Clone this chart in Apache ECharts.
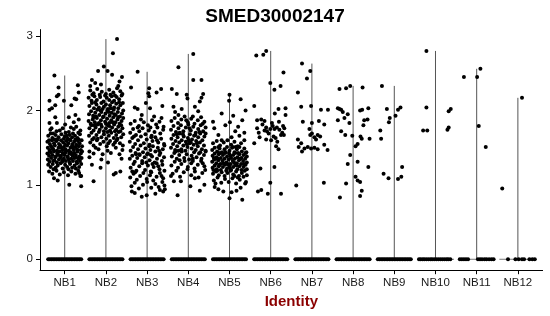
<!DOCTYPE html>
<html><head><meta charset="utf-8">
<script src="https://cdn.jsdelivr.net/npm/echarts@6/dist/echarts.min.js"></script>
<style>html,body{margin:0;padding:0;background:#fff}#c{width:550px;height:316px}</style>
</head><body><div id="c"></div>
<script>
const categories = ['NB1','NB2','NB3','NB4','NB5','NB6','NB7','NB8','NB9','NB10','NB11','NB12'];
const yTicks = [0,1,2,3];
// [jitter offset, expression value]
const nb1 = [[-.25,2.47],[-.15,2.31],[.32,2.34],[.34,2.24],[-.19,2.19],[-.15,2.21],[-.37,2.13],[.24,2.16],[.28,2.15],[-.02,2.13],[-.23,2.07],[-.37,2.01],[-.31,2.03],[.16,2.07],[-.23,1.91],[.10,1.91],[.26,1.94],[-.37,1.83],[-.19,1.83],[.01,1.81],[.22,1.84],[.34,1.88],[-.32,1.76],[-.26,1.09],[-.17,1.06],[.11,1.00],[.40,.98],[.40,1.12],[.35,1.16],
[-.35,1.74],[-.2,1.72],[-.05,1.76],[.1,1.71],[.22,1.75],[.33,1.7],[-.28,1.69],[.02,1.7],[.15,1.77],[-.12,1.73],[.38,1.73],[.28,1.78],
[-.4,1.66],[-.3,1.63],[-.22,1.67],[-.15,1.64],[-.08,1.68],[0,1.65],[.07,1.62],[.12,1.67],[.18,1.64],[.25,1.66],[.31,1.63],[.37,1.68],[-.34,1.69],[-.02,1.62],[.2,1.69],[-.18,1.61],[.34,1.61],[.05,1.66],
[-.42,1.58],[-.36,1.55],[-.31,1.6],[-.26,1.56],[-.2,1.59],[-.14,1.55],[-.09,1.6],[-.04,1.57],[.01,1.54],[.04,1.59],[.09,1.56],[.14,1.6],[.19,1.55],[.23,1.58],[.28,1.54],[.32,1.59],[.36,1.56],[.41,1.6],[-.24,1.61],[.11,1.61],[-.38,1.6],[.26,1.61],
[-.41,1.5],[-.37,1.47],[-.33,1.52],[-.28,1.48],[-.24,1.53],[-.19,1.46],[-.15,1.5],[-.11,1.53],[-.06,1.47],[-.02,1.51],[.02,1.48],[.06,1.53],[.1,1.46],[.14,1.5],[.18,1.53],[.22,1.47],[.26,1.51],[.3,1.48],[.34,1.52],[.39,1.47],[.42,1.52],[-.08,1.5],[.2,1.5],[-.3,1.49],
[-.42,1.42],[-.38,1.39],[-.34,1.44],[-.3,1.4],[-.26,1.45],[-.22,1.38],[-.18,1.42],[-.13,1.45],[-.09,1.39],[-.05,1.43],[-.01,1.4],[.03,1.45],[.07,1.38],[.11,1.42],[.15,1.44],[.19,1.39],[.23,1.43],[.27,1.4],[.31,1.45],[.35,1.38],[.39,1.42],[.42,1.45],[-.16,1.4],[.01,1.43],[.17,1.41],[-.36,1.45],
[-.41,1.34],[-.37,1.31],[-.33,1.36],[-.28,1.32],[-.23,1.37],[-.19,1.3],[-.14,1.34],[-.1,1.37],[-.06,1.31],[-.02,1.35],[.03,1.32],[.07,1.37],[.12,1.3],[.16,1.35],[.2,1.32],[.24,1.36],[.29,1.31],[.33,1.35],[.37,1.32],[.41,1.36],[-.25,1.33],[.1,1.34],[.27,1.37],[-.05,1.33],
[-.4,1.27],[-.34,1.24],[-.29,1.28],[-.22,1.23],[-.17,1.26],[-.1,1.29],[-.05,1.22],[.01,1.27],[.06,1.24],[.13,1.28],[.18,1.23],[.24,1.26],[.3,1.29],[.35,1.24],[.4,1.28],[-.27,1.21],[.09,1.21],[.27,1.22],
[-.38,1.18],[-.3,1.15],[-.2,1.19],[-.12,1.14],[-.02,1.17],[.08,1.13],[.16,1.18],[.26,1.15],[.33,1.19],[.38,1.12]];
const nb2 = [[.27,2.96],[.17,2.77],[-.05,2.59],[-.19,2.53],[.04,2.53],[.39,2.45],[.33,2.39],[-.34,2.41],[-.26,2.37],[.15,2.48],[.3,2.33],[-.12,2.35],[-.38,2.33],
[-.34,1.27],[-.11,1.34],[.24,1.16],[.19,1.14],[-.3,1.05],[.35,1.18],[-.13,1.23],[.05,1.3],[-.4,1.37],[.38,1.35],
[-.38,2.27],[-.3,2.23],[-.21,2.29],[-.1,2.25],[0,2.22],[.08,2.28],[.18,2.24],[.27,2.3],[.35,2.26],[-.15,2.21],[.22,2.2],[.4,2.22],
[-.42,2.17],[-.35,2.13],[-.28,2.19],[-.22,2.14],[-.14,2.18],[-.06,2.12],[.02,2.17],[.08,2.14],[.14,2.19],[.2,2.13],[.26,2.18],[.32,2.15],[.38,2.2],[-.02,2.2],[.11,2.21],[-.33,2.21],
[-.4,2.06],[-.34,2.1],[-.29,2.03],[-.23,2.08],[-.17,2.04],[-.11,2.1],[-.05,2.05],[0,2.08],[.05,2.02],[.1,2.07],[.15,2.11],[.2,2.04],[.25,2.09],[.3,2.03],[.35,2.07],[.41,2.1],[-.26,2.11],[.12,2.03],[.32,2.11],[-.08,2.02],
[-.41,1.95],[-.36,1.99],[-.31,1.93],[-.26,1.97],[-.21,2.01],[-.16,1.94],[-.11,1.98],[-.06,1.92],[-.01,1.96],[.04,2.0],[.09,1.93],[.14,1.97],[.19,2.01],[.24,1.94],[.29,1.98],[.34,1.92],[.39,1.96],[.42,2.0],[-.24,1.92],[.07,1.98],[.21,1.95],[-.13,2.0],
[-.42,1.86],[-.37,1.82],[-.32,1.88],[-.27,1.84],[-.22,1.9],[-.17,1.83],[-.12,1.87],[-.07,1.91],[-.02,1.85],[.03,1.89],[.08,1.83],[.13,1.87],[.18,1.91],[.23,1.84],[.28,1.88],[.33,1.82],[.38,1.86],[.42,1.9],[-.3,1.91],[0,1.82],[.16,1.84],[.3,1.91],
[-.4,1.76],[-.35,1.8],[-.3,1.73],[-.25,1.77],[-.2,1.81],[-.15,1.74],[-.1,1.78],[-.05,1.72],[0,1.76],[.05,1.8],[.1,1.73],[.15,1.77],[.2,1.81],[.25,1.74],[.3,1.78],[.35,1.72],[.4,1.76],[-.28,1.8],[.08,1.79],[.22,1.72],[-.12,1.81],[.37,1.8],
[-.41,1.66],[-.35,1.7],[-.29,1.63],[-.23,1.67],[-.17,1.71],[-.11,1.64],[-.05,1.68],[.01,1.62],[.07,1.66],[.13,1.7],[.19,1.63],[.25,1.67],[.31,1.71],[.37,1.64],[.42,1.68],[-.2,1.62],[.04,1.71],[.28,1.62],
[-.38,1.57],[-.3,1.53],[-.22,1.6],[-.14,1.55],[-.06,1.58],[.02,1.52],[.1,1.59],[.18,1.54],[.26,1.6],[.34,1.56],[.41,1.53],[-.33,1.61],[.06,1.56],[.22,1.57],
[-.4,1.45],[-.3,1.42],[-.18,1.48],[-.08,1.41],[.04,1.46],[.12,1.43],[.24,1.5],[.33,1.41],[.4,1.47],[-.25,1.5]];
const nb3 = [[-.23,2.52],[-.39,2.31],[.05,2.3],[.23,2.24],[.34,2.29],[.03,2.23],[.05,2.19],[-.03,2.1],[-.3,2.04],[-.23,2.02],[.07,2.03],[.37,2.06],[-.13,1.94],[.17,1.92],[.35,1.9],
[-.4,1.82],[-.3,1.86],[-.2,1.79],[-.08,1.84],[.02,1.8],[.12,1.87],[.22,1.81],[.3,1.85],[.4,1.78],[-.15,1.88],
[-.41,1.7],[-.34,1.75],[-.27,1.67],[-.19,1.72],[-.11,1.76],[-.04,1.68],[.04,1.73],[.11,1.66],[.18,1.71],[.25,1.77],[.32,1.69],[.39,1.74],[-.23,1.77],[.08,1.77],
[-.42,1.58],[-.36,1.63],[-.29,1.55],[-.22,1.6],[-.15,1.65],[-.08,1.56],[-.01,1.61],[.06,1.54],[.13,1.59],[.2,1.64],[.27,1.57],[.34,1.62],[.41,1.55],[-.32,1.65],[.1,1.64],[.24,1.6],
[-.4,1.46],[-.34,1.51],[-.28,1.43],[-.22,1.48],[-.16,1.53],[-.1,1.44],[-.04,1.49],[.02,1.42],[.08,1.47],[.14,1.52],[.2,1.45],[.26,1.5],[.32,1.43],[.38,1.48],[.42,1.53],[-.19,1.41],[.05,1.52],[.29,1.46],
[-.42,1.35],[-.36,1.39],[-.3,1.31],[-.24,1.36],[-.18,1.4],[-.12,1.32],[-.06,1.37],[0,1.41],[.06,1.33],[.12,1.38],[.18,1.3],[.24,1.35],[.3,1.4],[.36,1.32],[.41,1.37],[-.27,1.41],[.09,1.4],[-.02,1.3],
[-.4,1.23],[-.33,1.28],[-.26,1.19],[-.19,1.25],[-.12,1.29],[-.05,1.2],[.02,1.26],[.09,1.18],[.16,1.24],[.23,1.29],[.3,1.21],[.37,1.27],[.42,1.19],[-.36,1.18],[.13,1.28],[.27,1.25],
[-.41,1.1],[-.33,1.15],[-.25,1.07],[-.17,1.12],[-.09,1.16],[-.01,1.08],[.07,1.13],[.15,1.06],[.23,1.11],[.31,1.16],[.39,1.09],[-.29,1.17],[.1,1.17],[.35,1.12],
[-.38,.98],[-.3,1.03],[-.2,.95],[-.1,1.0],[0,1.04],[.1,.96],[.2,1.01],[.28,.97],[.37,1.04],[.42,.99],
[-.37,.91],[-.3,.89],[-.13,.84],[-.01,.86],[.31,.93],[.39,.91],[.43,.94],[.2,.88]];
const nb4 = [[.12,2.76],[-.24,2.58],[.12,2.41],[.32,2.41],[-.4,2.29],[-.28,2.22],[-.04,2.21],[-.02,2.16],[.36,2.22],[.32,2.17],[.28,2.12],[-.36,2.05],[-.16,2.02],[-.32,1.98],[-.24,1.94],[.16,2.05],[.24,1.99],
[-.41,1.86],[-.33,1.9],[-.25,1.83],[-.17,1.88],[-.09,1.92],[-.01,1.84],[.07,1.89],[.15,1.82],[.23,1.87],[.31,1.91],[.39,1.85],[-.05,1.87],[.11,1.92],[.35,1.82],
[-.42,1.74],[-.36,1.79],[-.3,1.71],[-.24,1.76],[-.18,1.8],[-.12,1.72],[-.06,1.77],[0,1.81],[.06,1.73],[.12,1.78],[.18,1.7],[.24,1.75],[.3,1.8],[.36,1.72],[.42,1.77],[-.21,1.7],[.03,1.76],[.27,1.71],
[-.41,1.62],[-.36,1.67],[-.31,1.59],[-.26,1.64],[-.21,1.69],[-.16,1.6],[-.11,1.65],[-.06,1.58],[-.01,1.63],[.04,1.68],[.09,1.61],[.14,1.66],[.19,1.59],[.24,1.64],[.29,1.69],[.34,1.6],[.39,1.65],[.42,1.69],[-.28,1.68],[.01,1.6],[.17,1.67],[-.13,1.68],
[-.42,1.5],[-.37,1.55],[-.32,1.47],[-.27,1.52],[-.22,1.57],[-.17,1.48],[-.12,1.53],[-.07,1.46],[-.02,1.51],[.03,1.56],[.08,1.49],[.13,1.54],[.18,1.47],[.23,1.52],[.28,1.57],[.33,1.48],[.38,1.53],[.42,1.46],[-.24,1.46],[.06,1.57],[.21,1.56],[-.04,1.55],
[-.4,1.38],[-.34,1.43],[-.28,1.35],[-.22,1.4],[-.16,1.45],[-.1,1.36],[-.04,1.41],[.02,1.34],[.08,1.39],[.14,1.44],[.2,1.37],[.26,1.42],[.32,1.35],[.38,1.4],[.42,1.45],[-.31,1.45],[.11,1.35],[.29,1.44],
[-.41,1.26],[-.33,1.31],[-.25,1.23],[-.17,1.28],[-.09,1.32],[-.01,1.24],[.07,1.29],[.15,1.22],[.23,1.27],[.31,1.32],[.39,1.25],[-.21,1.33],[.11,1.32],[.35,1.29],
[-.38,1.15],[-.29,1.19],[-.2,1.11],[-.11,1.17],[-.02,1.21],[.07,1.13],[.16,1.18],[.25,1.1],[.34,1.16],[.41,1.2],
[-.18,1.05],[-.26,.86],[.28,.92],[.39,1.0],[.16,1.09],[-.42,1.12],[-.35,1.05],[.05,.98]];
const nb5 = [[0,2.21],[-.01,2.13],[.27,2.15],[.39,2.0],[.09,1.93],[-.19,1.96],[-.1,1.8],[.01,1.84],[.31,1.87],[.21,1.78],[-.37,1.76],[-.27,1.67],[.14,1.72],[.24,1.66],[.05,1.64],[-.4,1.85],[.36,1.7],
[-.4,1.56],[-.31,1.59],[-.23,1.53],[-.14,1.57],[-.05,1.6],[.04,1.54],[.12,1.58],[.2,1.52],[.28,1.56],[.36,1.6],[-.19,1.6],[.08,1.51],
[-.42,1.47],[-.36,1.5],[-.3,1.45],[-.24,1.49],[-.18,1.44],[-.12,1.48],[-.06,1.51],[0,1.46],[.06,1.5],[.12,1.44],[.18,1.48],[.24,1.51],[.3,1.45],[.36,1.49],[.41,1.44],[-.09,1.44],[.15,1.51],[-.27,1.51],
[-.41,1.39],[-.36,1.42],[-.31,1.37],[-.26,1.41],[-.21,1.36],[-.16,1.4],[-.11,1.43],[-.06,1.38],[-.01,1.42],[.04,1.36],[.09,1.4],[.14,1.43],[.19,1.37],[.24,1.41],[.29,1.36],[.34,1.4],[.39,1.43],[.42,1.38],[-.23,1.43],[.02,1.39],[.21,1.43],[-.38,1.36],
[-.42,1.31],[-.37,1.34],[-.32,1.29],[-.27,1.33],[-.22,1.28],[-.17,1.32],[-.12,1.35],[-.07,1.3],[-.02,1.34],[.03,1.28],[.08,1.32],[.13,1.35],[.18,1.29],[.23,1.33],[.28,1.28],[.33,1.32],[.38,1.35],[.42,1.3],[-.29,1.35],[-.05,1.28],[.11,1.3],[.26,1.35],[-.15,1.29],[.35,1.28],
[-.41,1.23],[-.36,1.26],[-.31,1.21],[-.26,1.25],[-.21,1.2],[-.16,1.24],[-.11,1.27],[-.06,1.22],[-.01,1.26],[.04,1.2],[.09,1.24],[.14,1.27],[.19,1.21],[.24,1.25],[.29,1.2],[.34,1.24],[.39,1.27],[.42,1.21],[-.24,1.27],[.01,1.23],[.17,1.26],[-.39,1.2],
[-.4,1.15],[-.33,1.18],[-.26,1.13],[-.19,1.17],[-.12,1.12],[-.05,1.16],[.02,1.19],[.09,1.14],[.16,1.18],[.23,1.12],[.3,1.16],[.37,1.19],[.42,1.13],[-.08,1.19],[.12,1.12],[-.3,1.19],
[-.38,1.06],[-.29,1.1],[-.2,1.03],[-.11,1.08],[-.02,1.04],[.07,1.09],[.16,1.02],[.25,1.07],[.34,1.11],[.4,1.04],[-.34,1.02],[.2,1.1],
[-.27,.94],[-.15,.91],[.05,.9],[.17,.92],[.38,1.02],[.31,.8],[0,.82],[-.36,.97],[.27,.96]];
const nb6 = [[-.35,2.74],[-.18,2.75],[-.11,2.80],[.31,2.51],[-.01,2.37],[.24,2.33],[.09,2.28],[-.40,2.06],[.19,2.02],[.36,2.03],[.10,1.96],[.36,1.94],[-.33,1.87],[-.23,1.88],[-.15,1.86],[-.33,1.76],[-.29,1.70],[-.11,1.77],[-.09,1.72],[-.01,1.75],[.05,1.79],[.09,1.75],[.15,1.77],[.21,1.74],[.25,1.67],[.28,1.70],[.32,1.67],[.33,1.76],[.07,1.65],[-.11,1.61],[.16,1.58],[.01,1.60],[-.40,1.56],[.13,1.52],[.19,1.48],[-.25,1.22],[.09,1.24],[-.01,1.03],[-.31,.91],[-.23,.93],[-.07,.88],[.25,.88],[-.2,1.81],[.03,1.83],[.2,1.85],[-.05,1.69],[.12,1.63],[-.27,1.64],[.3,1.79],[-.15,1.73]];
const nb7 = [[-.24,2.63],[-.04,2.53],[-.12,2.43],[-.34,2.24],[-.26,2.05],[-.02,2.06],[.22,2.01],[.39,2.01],[-.22,1.85],[.17,1.86],[0,1.83],[.30,1.81],[-.34,1.61],[-.32,1.51],[-.26,1.56],[-.18,1.49],[-.10,1.51],[-.04,1.67],[0,1.69],[.06,1.64],[.10,1.61],[.14,1.67],[.20,1.65],[-.06,1.75],[-.02,1.49],[.06,1.50],[.14,1.48],[.30,1.54],[.38,1.47],[-.24,1.45],[-.38,.99],[.29,1.03]];
const nb8 = [[-.33,2.29],[-.17,2.30],[-.07,2.33],[.23,2.31],[-.37,2.03],[-.33,2.02],[-.29,2.01],[-.25,1.98],[-.13,1.95],[.17,2.00],[.22,2.01],[.37,2.03],[-.37,1.87],[-.21,1.90],[-.09,1.83],[.27,1.87],[.35,1.88],[.25,1.80],[-.29,1.72],[-.19,1.67],[-.02,1.66],[.18,1.65],[.21,1.62],[.40,1.62],[.11,1.55],[.06,1.52],[-.07,1.40],[-.13,1.28],[.37,1.24],[.11,1.31],[.06,1.11],[.11,1.06],[.17,1.04],[-.17,1.02],[.21,.92],[.17,.85],[-.32,.83]];
const nb9 = [[-.30,2.33],[-.18,2.02],[.09,2.01],[.15,2.04],[.03,1.93],[-.11,1.90],[-.13,1.84],[-.34,1.73],[-.32,1.62],[.19,1.24],[-.26,1.15],[-.14,1.09],[.09,1.08],[.17,1.11]];
const nb10 = [[-.22,2.80],[-.22,2.04],[.32,1.99],[.37,2.02],[-.30,1.73],[-.20,1.73],[.29,1.74],[.32,1.77]];
const nb11 = [[.09,2.56],[.01,2.45],[-.31,2.45],[.05,1.79],[.22,1.51]];
const nb12 = [[.10,2.17],[-.38,.95]];
// jitter offsets of the zero-valued cells
const zeroDense = [-.4,-.36,-.32,-.28,-.24,-.2,-.16,-.12,-.08,-.04,0,.04,.08,.12,.16,.2,.24,.28,.32,.36,.4];
const zeroNB10 = [-.4,-.36,-.31,-.27,-.22,-.17,-.12,-.08,-.03,.02,.07,.12,.17,.22,.27,.31,.36];
const zeroNB11 = [-.41,-.36,-.31,-.26,-.21,.03,.08,.13,.19,.24,.3,.36,.41];
const zeroNB12 = [-.24,-.06,.02,.1,.15,.28,.35,.41];

const groups = [nb1,nb2,nb3,nb4,nb5,nb6,nb7,nb8,nb9,nb10,nb11,nb12];
const zeros = [zeroDense,zeroDense,zeroDense,zeroDense,zeroDense,zeroDense,zeroDense,zeroDense,zeroDense,zeroNB10,zeroNB11,zeroNB12];

const pts = [];
groups.forEach((g,i)=>{
  zeros[i].forEach(o=>pts.push([i+1+o,0]));
  g.forEach(p=>pts.push([i+1+p[0],p[1]]));
});
const violins = groups.map((g,i)=>[i+1, Math.max(...g.map(p=>p[1]))]);

const FONT = '"Liberation Sans", Arial, Helvetica, sans-serif';
const chart = echarts.init(document.getElementById('c'), null, {renderer:'canvas'});
chart.setOption({
  animation:false,
  backgroundColor:'#fff',
  title:{text:'SMED30002147', left:'center', top:2,
    textStyle:{fontFamily:FONT, fontSize:19, fontWeight:'bold', color:'#000'}},
  grid:{left:40, right:7.4, top:29.6, bottom:45.8, containLabel:false},
  xAxis:{type:'value', min:0.4, max:12.6,
    name:'Identity', nameLocation:'middle', nameGap:20,
    nameTextStyle:{fontFamily:FONT, fontSize:15, fontWeight:'bold', color:'#8B0000'},
    axisLine:{show:true, onZero:false, lineStyle:{color:'#000', width:1}},
    axisTick:{show:true, length:4, customValues:categories.map((c,i)=>i+1), lineStyle:{color:'#000'}},
    axisLabel:{customValues:categories.map((c,i)=>i+1), formatter:v=>categories[Math.round(v)-1],
      fontFamily:FONT, fontSize:11.5, color:'#1a1a1a', margin:7},
    splitLine:{show:false}},
  yAxis:{type:'value', min:-0.147, max:3.087,
    axisLine:{show:true, onZero:false, lineStyle:{color:'#000', width:1}},
    axisTick:{show:true, length:4, customValues:yTicks, lineStyle:{color:'#000'}},
    axisLabel:{customValues:yTicks, fontFamily:FONT, fontSize:11.5, color:'#1a1a1a', margin:7},
    splitLine:{show:false}},
  series:[
    {type:'custom', z:1, silent:true, data:violins,
      renderItem:(params, api)=>{
        const x = api.value(0), top = api.value(1);
        const b = api.coord([x,0]), t = api.coord([x,top]);
        const l = api.coord([x-0.45,0]), r = api.coord([x+0.45,0]);
        return {type:'group', children:[
          {type:'line', shape:{x1:b[0],y1:b[1],x2:t[0],y2:t[1]}, style:{stroke:'#555', lineWidth:1}},
          {type:'line', shape:{x1:l[0],y1:l[1],x2:r[0],y2:r[1]}, style:{stroke:'#777', lineWidth:1}}
        ]};
      }},
    {type:'scatter', z:2, silent:true, symbol:'circle', symbolSize:4, data:pts,
      itemStyle:{color:'#000', opacity:1}}
  ]
});
</script></body></html>
